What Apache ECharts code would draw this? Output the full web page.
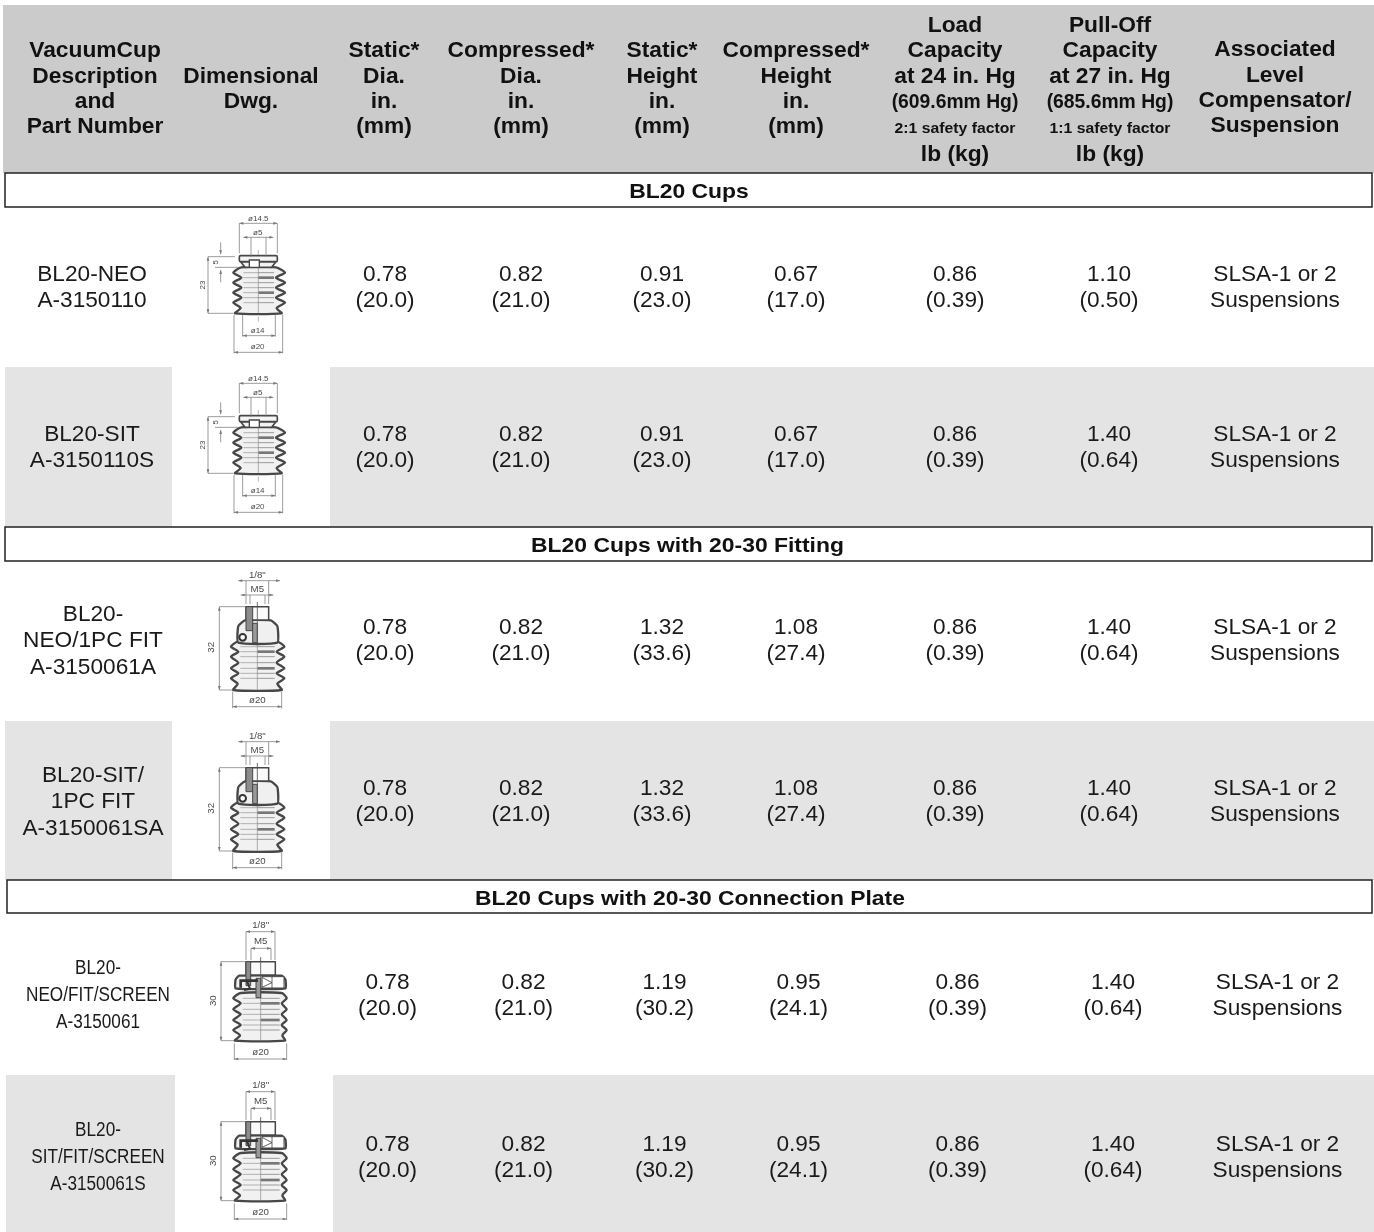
<!DOCTYPE html>
<html><head><meta charset="utf-8">
<style>html,body{margin:0;padding:0;background:#fff}#c{width:1374px;height:1232px}</style>
<script src="https://cdn.jsdelivr.net/npm/echarts@6/dist/echarts.min.js"></script>
</head><body><div id="c"></div>
<script>
// ---------- table content ----------
const headers = [
  ["VacuumCup","Description","and","Part Number"],
  ["Dimensional","Dwg."],
  ["Static*","Dia.","in.","(mm)"],
  ["Compressed*","Dia.","in.","(mm)"],
  ["Static*","Height","in.","(mm)"],
  ["Compressed*","Height","in.","(mm)"],
  ["Load","Capacity","at 24 in. Hg","(609.6mm Hg)","2:1 safety factor","lb (kg)"],
  ["Pull-Off","Capacity","at 27 in. Hg","(685.6mm Hg)","1:1 safety factor","lb (kg)"],
  ["Associated","Level","Compensator/","Suspension"]
];
const sections = ["BL20 Cups","BL20 Cups with 20-30 Fitting","BL20 Cups with 20-30 Connection Plate"];
const partNumbers = [
  ["BL20-NEO","A-3150110"],
  ["BL20-SIT","A-3150110S"],
  ["BL20-","NEO/1PC FIT","A-3150061A"],
  ["BL20-SIT/","1PC FIT","A-3150061SA"],
  ["BL20-","NEO/FIT/SCREEN","A-3150061"],
  ["BL20-","SIT/FIT/SCREEN","A-3150061S"]
];
const staticDiaIn  = ["0.78","0.78","0.78","0.78","0.78","0.78"];
const staticDiaMm  = ["(20.0)","(20.0)","(20.0)","(20.0)","(20.0)","(20.0)"];
const compDiaIn    = ["0.82","0.82","0.82","0.82","0.82","0.82"];
const compDiaMm    = ["(21.0)","(21.0)","(21.0)","(21.0)","(21.0)","(21.0)"];
const staticHtIn   = ["0.91","0.91","1.32","1.32","1.19","1.19"];
const staticHtMm   = ["(23.0)","(23.0)","(33.6)","(33.6)","(30.2)","(30.2)"];
const compHtIn     = ["0.67","0.67","1.08","1.08","0.95","0.95"];
const compHtMm     = ["(17.0)","(17.0)","(27.4)","(27.4)","(24.1)","(24.1)"];
const loadLb       = ["0.86","0.86","0.86","0.86","0.86","0.86"];
const loadKg       = ["(0.39)","(0.39)","(0.39)","(0.39)","(0.39)","(0.39)"];
const pullLb       = ["1.10","1.40","1.40","1.40","1.40","1.40"];
const pullKg       = ["(0.50)","(0.64)","(0.64)","(0.64)","(0.64)","(0.64)"];
const suspension   = ["SLSA-1 or 2","SLSA-1 or 2","SLSA-1 or 2","SLSA-1 or 2","SLSA-1 or 2","SLSA-1 or 2"];
const suspension2  = ["Suspensions","Suspensions","Suspensions","Suspensions","Suspensions","Suspensions"];
const drawingType  = ["A","A","B","B","C","C"];

// ---------- layout ----------
const W = 1374, H = 1232, FONT = '"Liberation Sans", Arial, sans-serif';
const headerX = [95,251,384,521,662,796,955,1110,1275];
const headerLineY = {4:[51,77,102,127],2:[77,102],6:[26,51,77,102,129,155]};
const rowCy = [288,448,641,802,996,1158];
const rowPartX = [92,92,93,93,98,98];
const rowDx = [0,0,0,0,2.5,2.5];
const colX = [385,521,662,796,955,1109,1275];
const sectionBox = [[5,173,1367,34],[5,527,1367,34],[7,880,1365,33]];
const sectionCx = [689,687.5,690];
const shade = [
  [5,367,167,160],[330,367,1044,160],
  [5,721,167,159],[330,721,1044,159],
  [6,1075,169,157],[333,1075,1041,157]
];
const drawOrigin = [[170,205],[170,365],[170,560],[170,721],[170,910],[170,1070]];

// ---------- build marks ----------
const rects = [];
rects.push([3,5,1371,168,'#cbcbcb','none']);
shade.forEach(s=>rects.push([...s,'#e4e4e4','none']));
sectionBox.forEach(s=>rects.push([...s,'#ffffff','#222222']));

const texts = [];
const put = (x,y,t,k)=>texts.push([x,y,t,k]);
headers.forEach((lines,c)=>{
  const ys = headerLineY[lines.length];
  lines.forEach((t,i)=>{
    const k = lines.length===6 ? (i===4?'hs':(i===3?'hn':'h')) : 'h';
    put(headerX[c],ys[i]-(c===8?1:0),t,k);
  });
});
sections.forEach((t,i)=>put(sectionCx[i],sectionBox[i][1]+19.5,t,'sec'));
partNumbers.forEach((lines,r)=>{
  const step = r>=4?27:26.5;
  const y0 = rowCy[r]-(lines.length-1)*step/2;
  lines.forEach((t,i)=>put(rowPartX[r],y0+i*step,t,r>=4?'n':'b'));
});
const cols = [[staticDiaIn,staticDiaMm],[compDiaIn,compDiaMm],[staticHtIn,staticHtMm],[compHtIn,compHtMm],[loadLb,loadKg],[pullLb,pullKg],[suspension,suspension2]];
cols.forEach((pair,c)=>pair[0].forEach((_,r)=>{
  const x = colX[c]+rowDx[r]+(c===5&&r>=4?1.5:0);
  put(x,rowCy[r]-13,pair[0][r],'b');
  put(x,rowCy[r]+13,pair[1][r],'b');
}));

const STYLE = {
  h:{font:'bold 22px '+FONT,sx:1.035,fill:'#111'},
  hn:{font:'bold 21px '+FONT,sx:0.92,fill:'#111'},
  hs:{font:'bold 15px '+FONT,sx:1.05,fill:'#111'},
  sec:{font:'bold 21px '+FONT,sx:1.09,fill:'#111'},
  b:{font:'22px '+FONT,sx:1.03,fill:'#1a1a1a'},
  n:{font:'19.5px '+FONT,sx:0.88,fill:'#1a1a1a'}
};

// drawing specs, in units of 1/3 px inside a 160x160 px cell
const DRAW = {
  A:{cx:265,top:[[208,152],[322,170]],neck:[[212,170],[225,187],[305,187],[318,170]],
     peaks:[203,233,263,293],troughs:[218,248,278],px:[190,345],tx:[214,318],bot:[325,[195,335]],
     dims:[
       [208,55,322,55,1],[208,55,208,145],[322,55,322,145],
       [220,97,310,97,1],[243,97,243,155],[288,97,288,155],
       [114,155,195,155],[114,325,190,325],[114,155,114,325,1],
       [152,112,152,148,2],[152,195,152,232,3],[135,187,205,187],
       [192,330,192,445],[338,330,338,445],[192,442,338,442,1],
       [218,330,218,395],[316,330,316,395],[218,392,316,392,1]
     ],
     labels:[[265,40,'ø14.5'],[263,83,'ø5'],[263,378,'ø14'],[263,425,'ø20'],[137,172,'5',1],[99,240,'23',1]]},
  B:{cx:262,spigot:[228,140,296,180],wall:[228,248],seal:[218,232],shoulderPts:[[205,248],[205,198],[225,181],[302,181],[322,198],[322,248]],
     peaks:[260,290,325,355],troughs:[275,308,340],px:[183,343],tx:[205,320],bot:[390,[190,335]],
     dims:[
       [205,62,330,62,1],[228,62,228,132],[296,62,296,132],
       [212,105,310,105,1],[240,105,240,132],[285,105,285,132],
       [148,140,225,140],[148,390,188,390],[148,140,148,390,1],
       [188,395,188,445],[335,395,335,445],[188,440,335,440,1]
     ],
     labels:[[262,47,'1/8"'],[262,88,'M5'],[262,422,'ø20'],[125,262,'32',1]]},
  C:{cx:272,spigot:[228,155,316,195],wall:[228,242],hook:true,shoulderPts:[[197,235],[197,208],[208,197],[335,197],[346,208],[346,235]],
     peaks:[265,298,330,360],troughs:[280,313,345],px:[190,350],tx:[212,335],bot:[392,[195,345]],
     dims:[
       [228,65,315,65,1],[228,65,228,150],[315,65,315,150],
       [243,115,303,115,1],[243,115,243,150],[303,115,303,150],
       [153,155,225,155],[153,392,192,392],[153,155,153,392,1],
       [193,400,193,450],[350,400,350,450],[193,447,350,447,1]
     ],
     extra:true,
     labels:[[272,47,'1/8"'],[272,95,'M5'],[272,428,'ø20'],[130,272,'30',1]]}
};

function arrow(x,y,dir,col){
  const L=12,W2=4;
  const p={l:[[x,y],[x+L,y-W2],[x+L,y+W2]],r:[[x,y],[x-L,y-W2],[x-L,y+W2]],
           u:[[x,y],[x-W2,y+L],[x+W2,y+L]],d:[[x,y],[x-W2,y-L],[x+W2,y-L]]}[dir];
  return {type:'polygon',shape:{points:p},style:{fill:col}};
}

function cupChildren(type){
  const d=DRAW[type],ch=[],LINE='#474747',THIN='#777777';
  const y0=d.peaks[0]-16,by=d.bot[0],cx=d.cx;
  const rightPts=[],leftPts=[];
  d.peaks.forEach((p,i)=>{
    rightPts.push([d.px[1],p]);leftPts.push([d.px[0],p]);
    if(i<d.troughs.length){rightPts.push([d.tx[1],d.troughs[i]]);leftPts.push([d.tx[0],d.troughs[i]]);}
  });
  const last=d.peaks[d.peaks.length-1]+16;
  rightPts.push([d.tx[1]+2,last]);leftPts.push([d.tx[0]-2,last]);
  ch.push({type:'polygon',shape:{smooth:0.22,points:[[d.tx[0],y0],[d.tx[1],y0],...rightPts,[d.bot[1][1],by],[d.bot[1][0],by],...leftPts.reverse()]},
    style:{fill:'#f1f1f1',stroke:LINE,lineWidth:7,lineJoin:'round'}});
  // internal ribs
  const ribY=[];
  for(let i=0;i<d.peaks.length;i++){ribY.push(d.peaks[i]);if(i<d.troughs.length)ribY.push(d.troughs[i]);}
  ribY.forEach((y,i)=>{
    ch.push({type:'line',shape:{x1:d.tx[0]+6,y1:y,x2:cx,y2:y},style:{stroke:'#a5a5a5',lineWidth:2.5}});
    ch.push({type:'line',shape:{x1:cx,y1:y,x2:d.tx[1]-6,y2:y},style:{stroke:i%3===1?'#777':'#999',lineWidth:i%3===1?8:3}});
  });
  ch.push({type:'line',shape:{x1:cx,y1:y0,x2:cx,y2:by},style:{stroke:'#888',lineWidth:2}});
  if(d.top){
    ch.push({type:'polygon',shape:{points:d.neck},style:{fill:'#f2f2f2',stroke:LINE,lineWidth:5}});
    ch.push({type:'rect',shape:{x:d.top[0][0],y:d.top[0][1],width:d.top[1][0]-d.top[0][0],height:d.top[1][1]-d.top[0][1],r:4},
      style:{fill:'#f4f4f4',stroke:LINE,lineWidth:5}});
    ch.push({type:'rect',shape:{x:238,y:165,width:30,height:22},style:{fill:'#fff',stroke:LINE,lineWidth:4}});
    ch.push({type:'line',shape:{x1:265,y1:135,x2:265,y2:150},style:{stroke:'#999',lineWidth:2}});
    ch.push({type:'line',shape:{x1:265,y1:335,x2:265,y2:350},style:{stroke:'#999',lineWidth:2}});
  } else {
    ch.push({type:'polygon',shape:{smooth:0.15,points:d.shoulderPts},style:{fill:'#f0f0f0',stroke:LINE,lineWidth:7,lineJoin:'round'}});
    const s=d.spigot;
    ch.push({type:'rect',shape:{x:s[0],y:s[1],width:s[2]-s[0],height:s[3]-s[1]},style:{fill:'#fafafa',stroke:LINE,lineWidth:4.5}});
    ch.push({type:'rect',shape:{x:d.wall[0],y:s[1],width:d.wall[1]-d.wall[0],height:s[3]-s[1]+32},style:{fill:'#8c8c8c',stroke:LINE,lineWidth:3}});
    ch.push({type:'rect',shape:{x:cx-14,y:s[3]+10,width:14,height:58},style:{fill:'#9a9a9a',stroke:LINE,lineWidth:3}});
    ch.push({type:'line',shape:{x1:cx,y1:s[1]-14,x2:cx,y2:s[3]+70},style:{stroke:'#555',lineWidth:2.5}});
    if(d.seal){
      ch.push({type:'circle',shape:{cx:d.seal[0],cy:d.seal[1],r:10},style:{fill:'#fff',stroke:'#333',lineWidth:6}});
    }
    if(d.hook){
      ch.push({type:'polyline',shape:{points:[[cx-60,233],[cx-60,212],[cx-8,212]]},style:{stroke:'#333',lineWidth:8,fill:null}});
      ch.push({type:'polyline',shape:{points:[[cx-42,212],[cx-32,236],[cx-50,240]]},style:{stroke:'#333',lineWidth:6,fill:null}});
      ch.push({type:'rect',shape:{x:cx+4,y:200,width:66,height:34},style:{fill:'#fff',stroke:LINE,lineWidth:3}});
      ch.push({type:'polyline',shape:{points:[[cx+4,202],[cx+34,218],[cx+4,232]]},style:{stroke:LINE,lineWidth:2.5,fill:null}});
      ch.push({type:'line',shape:{x1:cx+34,y1:200,x2:cx+34,y2:234},style:{stroke:LINE,lineWidth:2.5}});
    }
  }
  // dimension lines
  d.dims.forEach(m=>{
    ch.push({type:'line',shape:{x1:m[0],y1:m[1],x2:m[2],y2:m[3]},style:{stroke:THIN,lineWidth:2.2}});
    if(m[4]===1){
      if(m[1]===m[3]){ch.push(arrow(m[0],m[1],'l',THIN),arrow(m[2],m[3],'r',THIN));}
      else {ch.push(arrow(m[0],m[1],'u',THIN),arrow(m[2],m[3],'d',THIN));}
    }
    if(m[4]===2) ch.push(arrow(m[2],m[3],'d',THIN));
    if(m[4]===3) ch.push(arrow(m[0],m[1],'u',THIN));
  });
  // text
  d.labels.forEach(l=>ch.push({type:'text',x:l[0],y:l[1],rotation:l[3]?Math.PI/2:0,
    style:{text:l[2],font:(type==='A'?'24px ':'29px ')+FONT,fill:'#4a4a4a',align:'center',verticalAlign:'middle'}}));
  return ch;
}

const chart = echarts.init(document.getElementById('c'),null,{renderer:'canvas'});
chart.setOption({
  animation:false,
  grid:{left:0,right:0,top:0,bottom:0},
  xAxis:{type:'value',min:0,max:W,show:false},
  yAxis:{type:'value',min:0,max:H,inverse:true,show:false},
  series:[
    {type:'custom',coordinateSystem:'cartesian2d',silent:true,z:1,
     data:rects,encode:{x:0,y:1},
     renderItem:(p,api)=>{
       const r=rects[p.dataIndex],a=api.coord([r[0],r[1]]),b=api.coord([r[0]+r[2],r[1]+r[3]]);
       return {type:'rect',shape:{x:a[0],y:a[1],width:b[0]-a[0],height:b[1]-a[1]},
         style:{fill:r[4],stroke:r[5]==='none'?null:r[5],lineWidth:1.5}};
     }},
    {type:'custom',coordinateSystem:'cartesian2d',silent:true,z:2,
     data:drawingType.map((t,i)=>[drawOrigin[i][0],drawOrigin[i][1],t]),encode:{x:0,y:1},
     renderItem:(p,api)=>{
       const a=api.coord([drawOrigin[p.dataIndex][0],drawOrigin[p.dataIndex][1]]);
       return {type:'group',x:a[0],y:a[1],scaleX:1/3,scaleY:1/3,children:cupChildren(drawingType[p.dataIndex])};
     }},
    {type:'custom',coordinateSystem:'cartesian2d',silent:true,z:3,
     data:texts.map(t=>[t[0],t[1]]),encode:{x:0,y:1},
     renderItem:(p,api)=>{
       const t=texts[p.dataIndex],s=STYLE[t[3]],a=api.coord([t[0],t[1]]);
       return {type:'text',x:a[0],y:a[1],scaleX:s.sx,scaleY:1,
         style:{text:t[2],font:s.font,fill:s.fill,align:'center',verticalAlign:'middle'}};
     }}
  ]
});
</script></body></html>
